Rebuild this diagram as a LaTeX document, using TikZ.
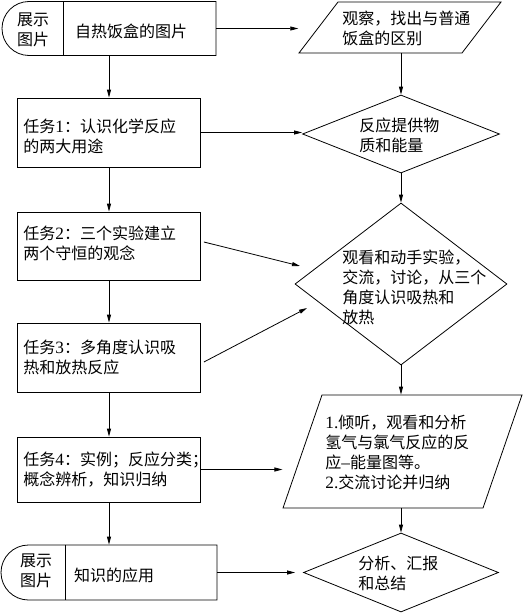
\documentclass[tikz,border=0pt]{standalone}
\usepackage{fontspec}
\setmainfont{Noto Sans CJK SC}
\newfontfamily\lat{Liberation Serif}[Scale=1.08]
\usetikzlibrary{shapes.geometric,shapes.misc,arrows.meta}
\begin{document}
\begin{tikzpicture}[x=1pt,y=1pt,
  line width=0.8pt,
  every node/.style={inner sep=0pt},
  txt/.style={font=\fontsize{16}{20}\selectfont, align=left, anchor=west},
  ctxt/.style={font=\fontsize{16}{20}\selectfont, align=center},
  taskbox/.style={draw, rectangle, minimum width=183pt},
  showbox/.style={draw, rounded rectangle, rounded rectangle east arc=none, minimum height=54pt},
  decbox/.style={draw, diamond},
  iobox/.style={draw, rectangle},
  arr/.style={-{Triangle[length=8pt,width=4pt]}}
]
\fill[white] (0,0) rectangle (524,-613);
\useasboundingbox (0,0) rectangle (524,-613);

% left column
\node[showbox, minimum width=214pt] (s1) at (109,-28.5) {};
\coordinate (s1d) at (63,0);
\draw (s1d |- s1.north) -- (s1d |- s1.south);
\node[ctxt] (s1a) at (33,-30) {展示\\图片};
\node[ctxt] (s1b) at (131,-31) {自热饭盒的图片};

\node[taskbox, minimum height=69pt] (k1) at (109,-132.5) {};
\node[txt] (k1t) at (23,-136) {任务{\lat 1}：认识化学反应\\的两大用途};

\node[taskbox, minimum height=68pt] (k2) at (109,-246) {};
\node[txt] (k2t) at (23,-243) {任务{\lat 2}：三个实验建立\\两个守恒的观念};

\node[taskbox, minimum height=69pt] (k3) at (109,-357.5) {};
\node[txt] (k3t) at (23,-357) {任务{\lat 3}：多角度认识吸\\热和放热反应};

\node[taskbox, minimum height=65pt] (k4) at (109,-469.5) {};
\node[txt] (k4t) at (23,-470) {任务{\lat 4}：实例；反应分类；\\概念辨析，知识归纳};

\node[showbox, minimum width=216pt, minimum height=55pt] (s2) at (109,-572.5) {};
\coordinate (s2d) at (65,0);
\draw (s2d |- s2.north) -- (s2d |- s2.south);
\node[ctxt] (s2a) at (36,-571) {展示\\图片};
\node[ctxt] (s2b) at (114,-575) {知识的应用};

% right column
\node[iobox, minimum width=163pt, minimum height=51pt, xslant=0.765] (p1) at (400,-27.5) {};
\node[txt] (p1t) at (342,-28) {观察，找出与普通\\饭盒的区别};

\node[decbox, minimum width=197pt, minimum height=78pt] (d1) at (401,-134) {};
\node[txt] (d1t) at (359,-135) {反应提供物\\质和能量};

\node[decbox, minimum width=212pt, minimum height=162pt] (bd) at (401,-284) {};
\node[txt] (bdt) at (342,-287) {观看和动手实验，\\交流，讨论，从三个\\角度认识吸热和\\放热};

\node[iobox, minimum width=200pt, minimum height=113pt, xslant=0.345] (p2) at (402.5,-451.5) {};
\node[txt] (p2t) at (325,-452) {{\lat 1.}倾听，观看和分析\\氢气与氯气反应的反\\应{\lat –}能量图等。\\{\lat 2.}交流讨论并归纳};

\node[decbox, minimum width=195pt, minimum height=79pt] (d3) at (401,-572.5) {};
\node[txt] (d3t) at (358,-573) {分析、汇报\\和总结};

\coordinate (bdin1) at (300,-266);
\coordinate (bdin2) at (307,-308);

% connectors left column
\draw[arr] (s1.south) -- (k1.north);
\draw[arr] (k1.south) -- (k2.north);
\draw[arr] (k2.south) -- (k3.north);
\draw[arr] (k3.south) -- (k4.north);
\draw[arr] (k4.south) -- (s2.north);

% connectors right column
\draw[arr] (p1.south -| d1.north) -- (d1.north);
\draw[arr] (d1.south) -- (bd.north);
\draw[arr] (bd.south) -- (bd.south |- p2.north);
\draw[arr] (bd.south |- p2.south) -- (d3.north);

% horizontal connectors
\draw[arr] (s1.east) -- (s1.east -| p1.south west);
\draw[arr] (k1.east) -- (k1.east -| d1.west);
\draw[arr] ([xshift=3pt,yshift=4pt]k2.east) -- (bdin1);
\draw[arr] ([xshift=3pt,yshift=-4.5pt]k3.east) -- (bdin2);
\draw[arr] (k4.east) -- (k4.east -| p2.south west);
\draw[arr, shorten >=8pt] (s2.east) -- (d3.west);
\end{tikzpicture}
\end{document}
